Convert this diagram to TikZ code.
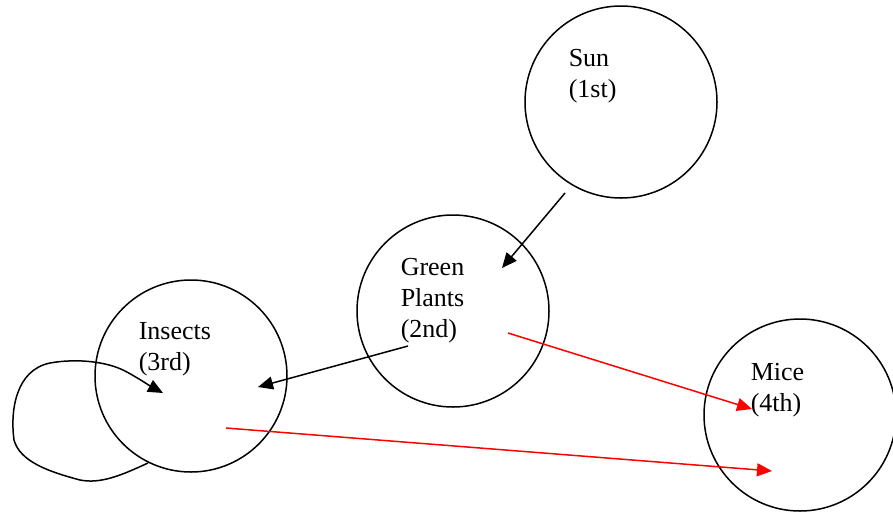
\documentclass[tikz,border=0pt]{standalone}
\usepackage{fontspec}
\setmainfont{Liberation Serif}
\usetikzlibrary{arrows.meta}

\begin{document}
\begin{tikzpicture}[x=1pt, y=-1pt, line width=1.5pt,
    body/.style={draw, circle, minimum size=192pt, inner sep=0pt},
    lbl/.style={align=left, anchor=west, inner sep=0pt, font=\fontsize{26}{31}\selectfont},
    link/.style={-{Triangle[length=15pt, width=13pt]}},
    eaten/.style={link, red}]
    \useasboundingbox (0,0) rectangle (893,512);
    % the four levels
    \node[body] (sun) at (621,102) {};
    \node[body] (plants) at (453,311) {};
    \node[body] (insects) at (191,376) {};
    \node[body] (mice) at (800,415) {};
    \node[lbl] (sunlbl) at (568,76) {Sun\\(1st)};
    \node[lbl] (plantslbl) at (400,301) {Green\\Plants\\(2nd)};
    \node[lbl] (insectslbl) at (138,349) {Insects\\(3rd)};
    \node[lbl] (micelbl) at (750,390) {Mice\\(4th)};
    % arrow ends
    \coordinate (sunout) at (565,193);
    \coordinate (plantsin) at (502,268);
    \coordinate (plantsout) at (408,346);
    \coordinate (insectsin) at (258,387);
    \coordinate (plantsred) at (508,333);
    \coordinate (micein) at (752,409);
    \coordinate (insectsred) at (226,428);
    \coordinate (micein2) at (772,471);
    \coordinate (loopstart) at (148,463);
    \coordinate (loopend) at (163,393);
    \draw[link] (sunout) -- (plantsin);
    \draw[link] (plantsout) -- (insectsin);
    \draw[eaten] (plantsred) -- (micein);
    \draw[eaten] (insectsred) -- (micein2);
    \draw[link] (loopstart) .. controls (120,476) and (100,484) .. (80,480)
        .. controls (50,472) and (20,462) .. (14,440)
        .. controls (10,410) and (16,370) .. (50,363)
        .. controls (78,358) and (108,362) .. (125,371)
        .. controls (140,379) and (150,386) .. (loopend);
\end{tikzpicture}
\end{document}
